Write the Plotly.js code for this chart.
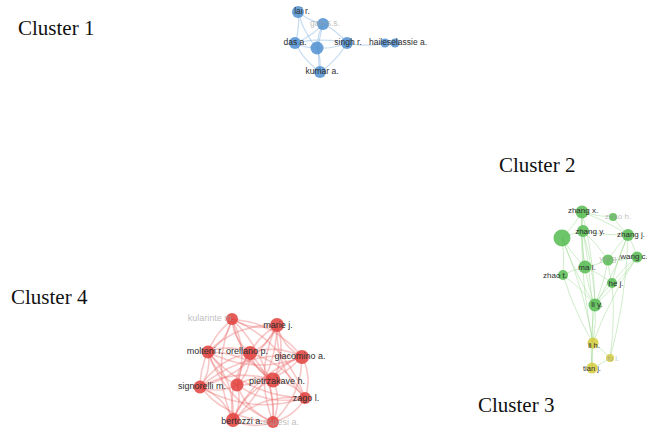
<!DOCTYPE html>
<html><head><meta charset="utf-8">
<script src="https://cdn.plot.ly/plotly-3.0.1.min.js"></script>
<style>html,body{margin:0;padding:0;background:#fff}#chart{width:647px;height:433px}</style>
</head><body><div id="chart"></div>
<script>
// ---- Cluster 1 (blue) ----
const c1NodeX = [298, 323, 295, 317, 347, 385, 395, 320];
const c1NodeY = [12, 24, 43, 48, 43, 43, 43, 72];
const c1NodeSize = [12, 12, 12, 13, 12, 9, 9, 12];
const c1Edges = [[0,1],[0,2],[0,3],[1,2],[1,3],[1,4],[2,3],[2,4],[3,4],[3,7],[2,7],[4,7],[4,5],[5,6],[1,7]];
const c1Labels = ["lai r.", "gao s.s.", "das a.", "singh r.", "haileselassie a.", "kumar a."];
const c1LabelX = [302, 325, 295, 348, 398, 322];
const c1LabelY = [12, 24, 43, 43, 43, 72];
const c1LabelFaint = [false, true, false, false, false, false];

// ---- Cluster 2 (green) + Cluster 3 (yellow) ----
const c2NodeX = [582, 613, 562, 583, 628, 608, 637, 585, 563, 612, 595];
const c2NodeY = [212, 217, 238, 231, 235, 260, 257, 267, 275, 283, 305];
const c2NodeSize = [13, 8, 17, 12, 12, 11, 11, 13, 10, 10, 13];
const c3NodeX = [593, 610, 592];
const c3NodeY = [343, 358, 368];
const c3NodeSize = [11, 8, 11];
// edges over combined list (green indices 0-10, yellow 11-13)
const c23Edges = [[0,1],[0,2],[0,3],[0,4],[0,7],[0,10],[1,4],[2,3],[2,7],[2,8],[2,10],[2,11],[3,4],[3,5],[3,7],[3,10],[4,5],[4,6],[4,9],[4,10],[5,6],[5,7],[5,9],[5,10],[6,9],[6,10],[7,8],[7,9],[7,10],[8,10],[9,10],[10,11],[10,13],[11,12],[11,13],[12,13],[0,11],[4,12],[6,11],[3,13],[8,11],[9,12]];
const c2Labels = ["zhang x.", "zhao h.", "zhang y.", "zhang j.", "yang l.", "wang c.", "ma l.", "zhao t.", "he j.", "li y."];
const c2LabelX = [583, 618, 590, 631, 611, 634, 587, 555, 616, 597];
const c2LabelY = [211, 217, 232, 235, 259, 257, 268, 276, 284, 305];
const c2LabelFaint = [false, true, false, false, true, false, false, false, false, false];
const c3Labels = ["li h.", "fu l.", "tian j."];
const c3LabelX = [594, 613, 592];
const c3LabelY = [346, 359, 369];
const c3LabelFaint = [false, true, false];

// ---- Cluster 4 (red) ----
const c4NodeX = [232, 277, 208, 250, 302, 200, 237, 273, 305, 233, 273];
const c4NodeY = [319, 325, 352, 353, 357, 387, 385, 380, 398, 420, 422];
const c4NodeSize = [12, 14, 13, 14, 14, 13, 13, 15, 12, 14, 12];
const c4Labels = ["kularinte m.", "marie j.", "molteni r.", "orellano p.", "giacomino a.", "signorelli m.", "pietrzakave h.", "zago l.", "bertozzi a.", "aspesi a."];
const c4LabelX = [211, 278, 205, 247, 300, 202, 277, 306, 242, 281];
const c4LabelY = [319, 326, 352, 352, 357, 387, 382, 399, 422, 423];
const c4LabelFaint = [true, false, false, false, false, false, false, false, false, true];

// ---- Cluster titles ----
const clusterNames = ["Cluster 1", "Cluster 2", "Cluster 3", "Cluster 4"];
const clusterNameX = [56, 537, 516, 49];
const clusterNameY = [28, 165, 405, 297];

function edgeTrace(xs, ys, edges, color, width, curv) {
  const ex = [], ey = [];
  edges.forEach(([a, b], k) => {
    const x0 = xs[a], y0 = ys[a], x1 = xs[b], y1 = ys[b];
    const mx = (x0 + x1) / 2, my = (y0 + y1) / 2;
    const dx = x1 - x0, dy = y1 - y0;
    const c = curv * (k % 2 === 0 ? 1 : -1);
    const cx = mx - dy * c, cy = my + dx * c;
    for (let t = 0; t <= 1.0001; t += 0.1) {
      const u = 1 - t;
      ex.push(u * u * x0 + 2 * u * t * cx + t * t * x1);
      ey.push(u * u * y0 + 2 * u * t * cy + t * t * y1);
    }
    ex.push(null); ey.push(null);
  });
  return {type: 'scatter', mode: 'lines', x: ex, y: ey, hoverinfo: 'skip',
    line: {color: color, width: width}, showlegend: false};
}
function nodeTrace(xs, ys, sizes, color) {
  return {type: 'scatter', mode: 'markers', x: xs, y: ys, hoverinfo: 'skip', showlegend: false,
    marker: {size: sizes, color: color, opacity: 0.85, line: {width: 0}}};
}
function labelTrace(labels, xs, ys, faint, size) {
  return {type: 'scatter', mode: 'text', x: xs, y: ys, text: labels, hoverinfo: 'skip', showlegend: false,
    textposition: 'middle center',
    textfont: {family: 'Liberation Sans, Arial, sans-serif', size: size,
      color: faint.map(f => f ? 'rgba(160,160,160,0.7)' : '#2e2e2e')}};
}

// all-pairs edges for cluster 4
const c4Edges = [];
for (let i = 0; i < c4NodeX.length; i++) for (let j = i + 1; j < c4NodeX.length; j++) c4Edges.push([i, j]);

const c23X = c2NodeX.concat(c3NodeX), c23Y = c2NodeY.concat(c3NodeY);

const data = [
  edgeTrace(c1NodeX, c1NodeY, c1Edges, 'rgba(150,190,230,0.55)', 1.2, 0.12),
  edgeTrace(c23X, c23Y, c23Edges, 'rgba(150,215,140,0.45)', 1, 0.06),
  edgeTrace(c4NodeX, c4NodeY, c4Edges, 'rgba(235,110,110,0.38)', 1.6, 0.22),
  nodeTrace(c1NodeX, c1NodeY, c1NodeSize, '#4f8fd0'),
  nodeTrace(c2NodeX, c2NodeY, c2NodeSize, '#55bb50'),
  nodeTrace(c3NodeX, c3NodeY, c3NodeSize, '#d6cb3c'),
  nodeTrace(c4NodeX, c4NodeY, c4NodeSize, '#e0403c'),
  labelTrace(c1Labels, c1LabelX, c1LabelY, c1LabelFaint, 8.5),
  labelTrace(c2Labels, c2LabelX, c2LabelY, c2LabelFaint, 8),
  labelTrace(c3Labels, c3LabelX, c3LabelY, c3LabelFaint, 7.5),
  labelTrace(c4Labels, c4LabelX, c4LabelY, c4LabelFaint, 9)
];

const layout = {
  width: 647, height: 433,
  margin: {l: 0, r: 0, t: 0, b: 0},
  paper_bgcolor: '#ffffff', plot_bgcolor: '#ffffff',
  xaxis: {range: [0, 647], visible: false, fixedrange: true},
  yaxis: {range: [433, 0], visible: false, fixedrange: true},
  showlegend: false,
  annotations: clusterNames.map((n, i) => ({
    x: clusterNameX[i], y: clusterNameY[i], xref: 'x', yref: 'y', text: n, showarrow: false,
    font: {family: 'Liberation Serif, Times New Roman, serif', size: 21, color: '#111'}
  }))
};
Plotly.newPlot('chart', data, layout, {staticPlot: true, displayModeBar: false});
</script></body></html>
